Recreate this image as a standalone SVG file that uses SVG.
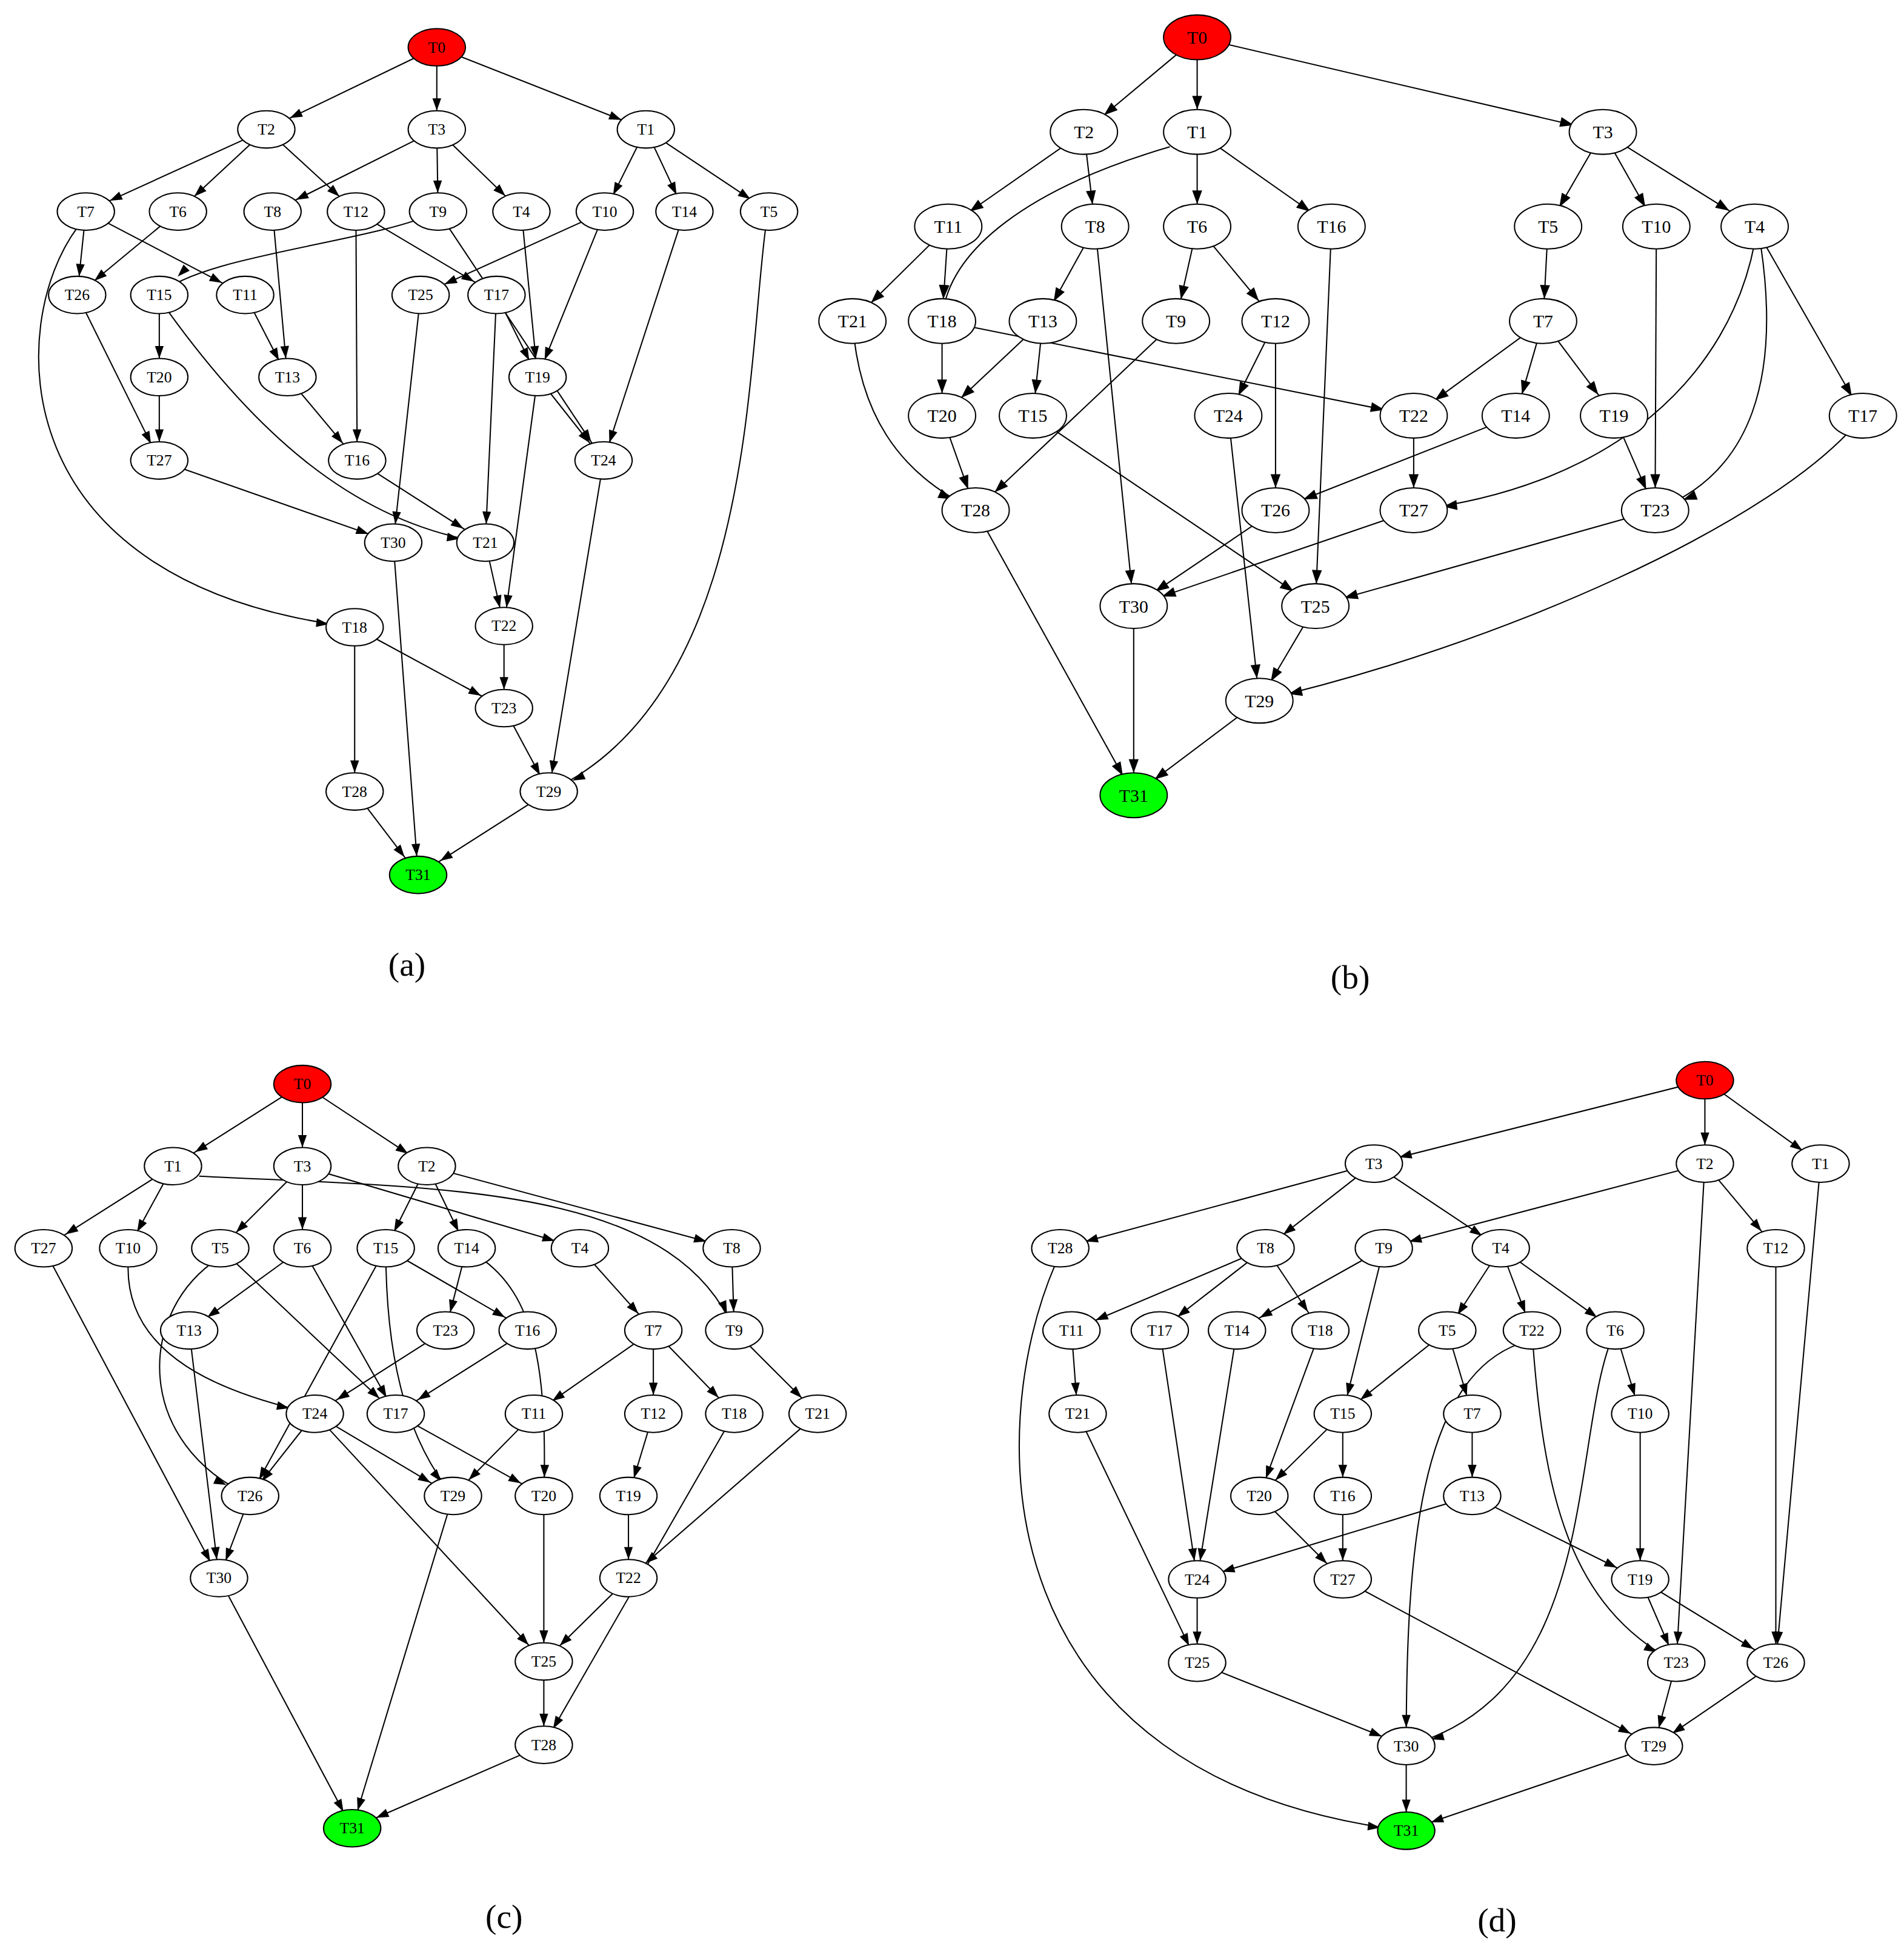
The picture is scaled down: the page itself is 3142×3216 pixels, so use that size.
<svg xmlns="http://www.w3.org/2000/svg" width="3142" height="3216" viewBox="0 0 3142 3216">
<style>
.e{fill:none;stroke:#000;stroke-width:1}
.m1{marker-end:url(#a1)}.m2{marker-end:url(#a2)}.m3{marker-end:url(#a3)}
.n1{marker-end:url(#b1)}.n2{marker-end:url(#b2)}.n3{marker-end:url(#b3)}
ellipse{fill:#fff;stroke:#000;stroke-width:1}
.s ellipse{rx:23px;ry:15px}
.b ellipse{rx:27px;ry:18px}
text{font-family:"Liberation Serif",serif;text-anchor:middle;dominant-baseline:central}
.s text{font-size:12.5px}.b text{font-size:14.5px}
.red ellipse{fill:#f00}.grn ellipse{fill:#0f0}
.lab{font-size:27px}
</style>
<defs>
<marker id="a1" markerUnits="userSpaceOnUse" markerWidth="40" markerHeight="10" refX="25" refY="3.5" orient="auto" overflow="visible"><path d="M0,0L10,3.5L0,7z"/></marker>
<marker id="a2" markerUnits="userSpaceOnUse" markerWidth="40" markerHeight="10" refX="28" refY="3.5" orient="auto" overflow="visible"><path d="M0,0L10,3.5L0,7z"/></marker>
<marker id="a3" markerUnits="userSpaceOnUse" markerWidth="40" markerHeight="10" refX="31" refY="3.5" orient="auto" overflow="visible"><path d="M0,0L10,3.5L0,7z"/></marker>
<marker id="b1" markerUnits="userSpaceOnUse" markerWidth="40" markerHeight="10" refX="29" refY="4" orient="auto" overflow="visible"><path d="M0,0L11,4L0,8z"/></marker>
<marker id="b2" markerUnits="userSpaceOnUse" markerWidth="40" markerHeight="10" refX="32" refY="4" orient="auto" overflow="visible"><path d="M0,0L11,4L0,8z"/></marker>
<marker id="b3" markerUnits="userSpaceOnUse" markerWidth="40" markerHeight="10" refX="35" refY="4" orient="auto" overflow="visible"><path d="M0,0L11,4L0,8z"/></marker>
</defs>
<rect width="3142" height="3216" fill="#fff"/>
<g transform="scale(2.0536)">
<g id="connectors">
<!-- a -->
<path class="e m3" d="M351,38L214,104"/><path class="e m1" d="M351,38L351,104"/><path class="e m3" d="M351,38L519,104"/>
<path class="e m3" d="M214,104L69,170"/><path class="e m2" d="M214,104L143,170"/><path class="e m2" d="M214,104L286,170"/>
<path class="e m3" d="M351,104L219,170"/><path class="e m1" d="M351,104L352,170"/><path class="e m2" d="M351,104L419,170"/>
<path class="e m1" d="M519,104L486,170"/><path class="e m1" d="M519,104L550,170"/><path class="e m2" d="M519,104L618,170"/>
<path class="e m1" d="M69,170L62,237"/><path class="e m3" d="M69,170L197,237"/><path class="e m3" d="M62,183C5,260 0,470 285,504"/>
<path class="e m2" d="M143,170L62,237"/><path class="e m1" d="M219,170L231,303"/>
<path class="e m1" d="M286,170L287,370"/><path class="e m3" d="M286,170L399,237"/>
<path class="e m3" d="M352,170C300,195 160,205 128,237"/><path class="e m2" d="M352,170L485,370"/>
<path class="e m1" d="M419,170L432,303"/><path class="e m3" d="M486,170L338,237"/><path class="e m1" d="M486,170L432,303"/>
<path class="e m1" d="M550,170L485,370"/><path class="e m3" d="M615,185C600,300 605,560 441,636"/>
<path class="e m1" d="M62,237L128,370"/><path class="e m1" d="M128,237L128,303"/><path class="e m3" d="M135,250C200,340 280,420 390,436"/>
<path class="e m1" d="M197,237L231,303"/><path class="e m1" d="M338,237L316,436"/><path class="e m1" d="M399,237L432,303"/><path class="e m1" d="M399,237L390,436"/>
<path class="e m1" d="M128,303L128,370"/><path class="e m2" d="M231,303L287,370"/><path class="e m2" d="M432,303L485,370"/><path class="e m1" d="M432,303L405,503"/>
<path class="e m3" d="M128,370L316,436"/><path class="e m3" d="M287,370L390,436"/><path class="e m1" d="M485,370L441,636"/>
<path class="e m1" d="M316,436L336,703"/><path class="e m1" d="M390,436L405,503"/>
<path class="e m3" d="M285,504L405,569"/><path class="e m1" d="M285,504L285,636"/><path class="e m1" d="M405,503L405,569"/>
<path class="e m1" d="M405,569L441,636"/><path class="e m2" d="M285,636L336,703"/><path class="e m3" d="M441,636L336,703"/>
<!-- b -->
<path class="e n2" d="M962,30L871,106"/><path class="e n1" d="M962,30L962,106"/><path class="e n3" d="M962,30L1288,106"/>
<path class="e n2" d="M871,106L762,182"/><path class="e n1" d="M871,106L880,182"/>
<path class="e n1" d="M940,118C830,150 760,200 757,258"/><path class="e n1" d="M962,106L962,182"/><path class="e n2" d="M962,106L1070,182"/>
<path class="e n1" d="M1288,106L1244,182"/><path class="e n1" d="M1288,106L1331,182"/><path class="e n3" d="M1288,106L1410,182"/>
<path class="e n2" d="M762,182L685,258"/><path class="e n1" d="M762,182L757,258"/>
<path class="e n1" d="M880,182L838,258"/><path class="e n1" d="M880,182L911,487"/>
<path class="e n1" d="M962,182L945,258"/><path class="e n2" d="M962,182L1025,258"/>
<path class="e n1" d="M1070,182L1057,487"/><path class="e n1" d="M1244,182L1240,258"/><path class="e n1" d="M1331,182L1330,410"/>
<path class="e n3" d="M1410,195C1390,300 1300,390 1136,410"/><path class="e n3" d="M1415,198C1430,300 1410,380 1330,410"/><path class="e n1" d="M1410,182L1497,334"/>
<path class="e n2" d="M685,258C690,330 720,380 784,410"/>
<path class="e n1" d="M757,258L757,334"/><path class="e n3" d="M757,258L1136,334"/>
<path class="e n2" d="M838,258L757,334"/><path class="e n1" d="M838,258L830,334"/>
<path class="e n2" d="M945,258L784,410"/><path class="e n1" d="M1025,258L987,334"/><path class="e n1" d="M1025,258L1025,410"/>
<path class="e n2" d="M1240,258L1136,334"/><path class="e n1" d="M1240,258L1218,334"/><path class="e n2" d="M1240,258L1297,334"/>
<path class="e n1" d="M757,334L784,410"/><path class="e n2" d="M830,334L1057,487"/><path class="e n1" d="M987,334L1012,563"/>
<path class="e n1" d="M1136,334L1136,410"/><path class="e n3" d="M1218,334L1025,410"/><path class="e n1" d="M1297,334L1330,410"/>
<path class="e n3" d="M1497,334C1430,420 1200,520 1012,563"/>
<path class="e n1" d="M784,410L911,639"/><path class="e n2" d="M1025,410L911,487"/><path class="e n3" d="M1136,410L911,487"/><path class="e n3" d="M1330,410L1057,487"/>
<path class="e n1" d="M911,487L911,639"/><path class="e n1" d="M1057,487L1012,563"/><path class="e n2" d="M1012,563L911,639"/>
<!-- c -->
<path class="e m3" d="M243,871L139,937"/><path class="e m1" d="M243,871L243,937"/><path class="e m2" d="M243,871L343,937"/>
<path class="e m3" d="M139,937L35,1003"/><path class="e m1" d="M139,937L103,1003"/><path class="e m1" d="M160,945C350,955 540,950 590,1069"/>
<path class="e m2" d="M243,937L177,1003"/><path class="e m1" d="M243,937L243,1003"/><path class="e m3" d="M243,937L466,1003"/>
<path class="e m1" d="M343,937L310,1003"/><path class="e m1" d="M343,937L375,1003"/><path class="e m3" d="M343,937L588,1003"/>
<path class="e m1" d="M35,1003L176,1268"/><path class="e m3" d="M103,1015C100,1090 180,1120 253,1136"/>
<path class="e m3" d="M170,1015C110,1060 110,1160 201,1202"/><path class="e m2" d="M177,1003L318,1136"/>
<path class="e m2" d="M243,1003L152,1069"/><path class="e m1" d="M243,1003L318,1136"/>
<path class="e m1" d="M310,1003L201,1202"/><path class="e m1" d="M310,1003C310,1100 330,1160 364,1202"/><path class="e m3" d="M310,1003L424,1069"/>
<path class="e m1" d="M375,1003L358,1069"/><path class="e m1" d="M385,1010C430,1040 440,1100 437,1202"/>
<path class="e m2" d="M466,1003L525,1069"/><path class="e m1" d="M588,1003L590,1069"/>
<path class="e m1" d="M152,1069L176,1268"/><path class="e m3" d="M358,1069L253,1136"/><path class="e m3" d="M424,1069L318,1136"/>
<path class="e m2" d="M525,1069L429,1136"/><path class="e m1" d="M525,1069L525,1136"/><path class="e m2" d="M525,1069L590,1136"/>
<path class="e m2" d="M590,1069L657,1136"/>
<path class="e m1" d="M253,1136L201,1202"/><path class="e m3" d="M253,1136L364,1202"/><path class="e m2" d="M253,1136L437,1335"/>
<path class="e m3" d="M318,1136L437,1202"/><path class="e m2" d="M429,1136L364,1202"/><path class="e m1" d="M525,1136L505,1202"/>
<path class="e m1" d="M590,1136L437,1402"/><path class="e m2" d="M657,1136L505,1268"/>
<path class="e m1" d="M201,1202L176,1268"/><path class="e m1" d="M364,1202L283,1469"/><path class="e m1" d="M437,1202L437,1335"/><path class="e m1" d="M505,1202L505,1268"/>
<path class="e m1" d="M176,1268L283,1469"/><path class="e m2" d="M505,1268L437,1335"/><path class="e m1" d="M437,1335L437,1402"/><path class="e m3" d="M437,1402L283,1469"/>
<!-- d -->
<path class="e m3" d="M1370,868L1104,935"/><path class="e m1" d="M1370,868L1370,935"/><path class="e m2" d="M1370,868L1463,935"/>
<path class="e m3" d="M1104,935L852,1003"/><path class="e m2" d="M1104,935L1017,1003"/><path class="e m2" d="M1104,935L1206,1003"/>
<path class="e m3" d="M1370,935L1112,1003"/><path class="e m1" d="M1370,935L1347,1336"/><path class="e m2" d="M1370,935L1427,1003"/>
<path class="e m1" d="M1463,935L1427,1336"/>
<path class="e m3" d="M848,1016C790,1150 790,1430 1130,1471"/>
<path class="e m3" d="M1017,1003L861,1069"/><path class="e m2" d="M1017,1003L932,1069"/><path class="e m2" d="M1017,1003L1061,1069"/>
<path class="e m3" d="M1112,1003L994,1069"/><path class="e m1" d="M1112,1003L1079,1136"/>
<path class="e m1" d="M1206,1003L1163,1069"/><path class="e m1" d="M1206,1003L1231,1069"/><path class="e m2" d="M1206,1003L1298,1069"/>
<path class="e m1" d="M1427,1003L1427,1336"/><path class="e m1" d="M861,1069L866,1136"/>
<path class="e m1" d="M932,1069L962,1269"/><path class="e m1" d="M994,1069L962,1269"/><path class="e m1" d="M1061,1069L1012,1202"/>
<path class="e m2" d="M1163,1069L1079,1136"/><path class="e m1" d="M1163,1069L1183,1136"/>
<path class="e m1" d="M1220,1080C1140,1110 1130,1250 1130,1403"/><path class="e m2" d="M1231,1069C1240,1200 1260,1290 1347,1336"/>
<path class="e m3" d="M1298,1069C1260,1150 1290,1360 1130,1403"/><path class="e m1" d="M1298,1069L1318,1136"/>
<path class="e m1" d="M866,1136L962,1336"/><path class="e m2" d="M1079,1136L1012,1202"/><path class="e m1" d="M1079,1136L1079,1202"/>
<path class="e m1" d="M1183,1136L1183,1202"/><path class="e m1" d="M1318,1136L1318,1269"/>
<path class="e m2" d="M1012,1202L1079,1269"/><path class="e m1" d="M1079,1202L1079,1269"/>
<path class="e m3" d="M1183,1202L962,1269"/><path class="e m3" d="M1183,1202L1318,1269"/>
<path class="e m1" d="M962,1269L962,1336"/><path class="e m3" d="M1079,1269L1329,1403"/>
<path class="e m1" d="M1318,1269L1347,1336"/><path class="e m3" d="M1318,1269L1427,1336"/>
<path class="e m3" d="M962,1336L1130,1403"/><path class="e m1" d="M1347,1336L1329,1403"/><path class="e m2" d="M1427,1336L1329,1403"/>
<path class="e m1" d="M1130,1403L1130,1471"/><path class="e m3" d="M1329,1403L1130,1471"/>
</g>
<g id="graph-a" class="s">
<g id="a-T0" class="red"><ellipse cx="351" cy="38" rx="23" ry="15"/><text x="351" y="38">T0</text></g>
<g id="a-T2"><ellipse cx="214" cy="104" rx="23" ry="15"/><text x="214" y="104">T2</text></g>
<g id="a-T3"><ellipse cx="351" cy="104" rx="23" ry="15"/><text x="351" y="104">T3</text></g>
<g id="a-T1"><ellipse cx="519" cy="104" rx="23" ry="15"/><text x="519" y="104">T1</text></g>
<g id="a-T7"><ellipse cx="69" cy="170" rx="23" ry="15"/><text x="69" y="170">T7</text></g>
<g id="a-T6"><ellipse cx="143" cy="170" rx="23" ry="15"/><text x="143" y="170">T6</text></g>
<g id="a-T8"><ellipse cx="219" cy="170" rx="23" ry="15"/><text x="219" y="170">T8</text></g>
<g id="a-T12"><ellipse cx="286" cy="170" rx="23" ry="15"/><text x="286" y="170">T12</text></g>
<g id="a-T9"><ellipse cx="352" cy="170" rx="23" ry="15"/><text x="352" y="170">T9</text></g>
<g id="a-T4"><ellipse cx="419" cy="170" rx="23" ry="15"/><text x="419" y="170">T4</text></g>
<g id="a-T10"><ellipse cx="486" cy="170" rx="23" ry="15"/><text x="486" y="170">T10</text></g>
<g id="a-T14"><ellipse cx="550" cy="170" rx="23" ry="15"/><text x="550" y="170">T14</text></g>
<g id="a-T5"><ellipse cx="618" cy="170" rx="23" ry="15"/><text x="618" y="170">T5</text></g>
<g id="a-T26"><ellipse cx="62" cy="237" rx="23" ry="15"/><text x="62" y="237">T26</text></g>
<g id="a-T15"><ellipse cx="128" cy="237" rx="23" ry="15"/><text x="128" y="237">T15</text></g>
<g id="a-T11"><ellipse cx="197" cy="237" rx="23" ry="15"/><text x="197" y="237">T11</text></g>
<g id="a-T25"><ellipse cx="338" cy="237" rx="23" ry="15"/><text x="338" y="237">T25</text></g>
<g id="a-T17"><ellipse cx="399" cy="237" rx="23" ry="15"/><text x="399" y="237">T17</text></g>
<g id="a-T20"><ellipse cx="128" cy="303" rx="23" ry="15"/><text x="128" y="303">T20</text></g>
<g id="a-T13"><ellipse cx="231" cy="303" rx="23" ry="15"/><text x="231" y="303">T13</text></g>
<g id="a-T19"><ellipse cx="432" cy="303" rx="23" ry="15"/><text x="432" y="303">T19</text></g>
<g id="a-T27"><ellipse cx="128" cy="370" rx="23" ry="15"/><text x="128" y="370">T27</text></g>
<g id="a-T16"><ellipse cx="287" cy="370" rx="23" ry="15"/><text x="287" y="370">T16</text></g>
<g id="a-T24"><ellipse cx="485" cy="370" rx="23" ry="15"/><text x="485" y="370">T24</text></g>
<g id="a-T30"><ellipse cx="316" cy="436" rx="23" ry="15"/><text x="316" y="436">T30</text></g>
<g id="a-T21"><ellipse cx="390" cy="436" rx="23" ry="15"/><text x="390" y="436">T21</text></g>
<g id="a-T18"><ellipse cx="285" cy="504" rx="23" ry="15"/><text x="285" y="504">T18</text></g>
<g id="a-T22"><ellipse cx="405" cy="503" rx="23" ry="15"/><text x="405" y="503">T22</text></g>
<g id="a-T23"><ellipse cx="405" cy="569" rx="23" ry="15"/><text x="405" y="569">T23</text></g>
<g id="a-T28"><ellipse cx="285" cy="636" rx="23" ry="15"/><text x="285" y="636">T28</text></g>
<g id="a-T29"><ellipse cx="441" cy="636" rx="23" ry="15"/><text x="441" y="636">T29</text></g>
<g id="a-T31" class="grn"><ellipse cx="336" cy="703" rx="23" ry="15"/><text x="336" y="703">T31</text></g>
</g>
<g id="graph-b" class="b">
<g id="b-T0" class="red"><ellipse cx="962" cy="30" rx="27" ry="18"/><text x="962" y="30">T0</text></g>
<g id="b-T2"><ellipse cx="871" cy="106" rx="27" ry="18"/><text x="871" y="106">T2</text></g>
<g id="b-T1"><ellipse cx="962" cy="106" rx="27" ry="18"/><text x="962" y="106">T1</text></g>
<g id="b-T3"><ellipse cx="1288" cy="106" rx="27" ry="18"/><text x="1288" y="106">T3</text></g>
<g id="b-T11"><ellipse cx="762" cy="182" rx="27" ry="18"/><text x="762" y="182">T11</text></g>
<g id="b-T8"><ellipse cx="880" cy="182" rx="27" ry="18"/><text x="880" y="182">T8</text></g>
<g id="b-T6"><ellipse cx="962" cy="182" rx="27" ry="18"/><text x="962" y="182">T6</text></g>
<g id="b-T16"><ellipse cx="1070" cy="182" rx="27" ry="18"/><text x="1070" y="182">T16</text></g>
<g id="b-T5"><ellipse cx="1244" cy="182" rx="27" ry="18"/><text x="1244" y="182">T5</text></g>
<g id="b-T10"><ellipse cx="1331" cy="182" rx="27" ry="18"/><text x="1331" y="182">T10</text></g>
<g id="b-T4"><ellipse cx="1410" cy="182" rx="27" ry="18"/><text x="1410" y="182">T4</text></g>
<g id="b-T21"><ellipse cx="685" cy="258" rx="27" ry="18"/><text x="685" y="258">T21</text></g>
<g id="b-T18"><ellipse cx="757" cy="258" rx="27" ry="18"/><text x="757" y="258">T18</text></g>
<g id="b-T13"><ellipse cx="838" cy="258" rx="27" ry="18"/><text x="838" y="258">T13</text></g>
<g id="b-T9"><ellipse cx="945" cy="258" rx="27" ry="18"/><text x="945" y="258">T9</text></g>
<g id="b-T12"><ellipse cx="1025" cy="258" rx="27" ry="18"/><text x="1025" y="258">T12</text></g>
<g id="b-T7"><ellipse cx="1240" cy="258" rx="27" ry="18"/><text x="1240" y="258">T7</text></g>
<g id="b-T20"><ellipse cx="757" cy="334" rx="27" ry="18"/><text x="757" y="334">T20</text></g>
<g id="b-T15"><ellipse cx="830" cy="334" rx="27" ry="18"/><text x="830" y="334">T15</text></g>
<g id="b-T24"><ellipse cx="987" cy="334" rx="27" ry="18"/><text x="987" y="334">T24</text></g>
<g id="b-T22"><ellipse cx="1136" cy="334" rx="27" ry="18"/><text x="1136" y="334">T22</text></g>
<g id="b-T14"><ellipse cx="1218" cy="334" rx="27" ry="18"/><text x="1218" y="334">T14</text></g>
<g id="b-T19"><ellipse cx="1297" cy="334" rx="27" ry="18"/><text x="1297" y="334">T19</text></g>
<g id="b-T17"><ellipse cx="1497" cy="334" rx="27" ry="18"/><text x="1497" y="334">T17</text></g>
<g id="b-T28"><ellipse cx="784" cy="410" rx="27" ry="18"/><text x="784" y="410">T28</text></g>
<g id="b-T26"><ellipse cx="1025" cy="410" rx="27" ry="18"/><text x="1025" y="410">T26</text></g>
<g id="b-T27"><ellipse cx="1136" cy="410" rx="27" ry="18"/><text x="1136" y="410">T27</text></g>
<g id="b-T23"><ellipse cx="1330" cy="410" rx="27" ry="18"/><text x="1330" y="410">T23</text></g>
<g id="b-T30"><ellipse cx="911" cy="487" rx="27" ry="18"/><text x="911" y="487">T30</text></g>
<g id="b-T25"><ellipse cx="1057" cy="487" rx="27" ry="18"/><text x="1057" y="487">T25</text></g>
<g id="b-T29"><ellipse cx="1012" cy="563" rx="27" ry="18"/><text x="1012" y="563">T29</text></g>
<g id="b-T31" class="grn"><ellipse cx="911" cy="639" rx="27" ry="18"/><text x="911" y="639">T31</text></g>
</g>
<g id="graph-c" class="s">
<g id="c-T0" class="red"><ellipse cx="243" cy="871" rx="23" ry="15"/><text x="243" y="871">T0</text></g>
<g id="c-T1"><ellipse cx="139" cy="937" rx="23" ry="15"/><text x="139" y="937">T1</text></g>
<g id="c-T3"><ellipse cx="243" cy="937" rx="23" ry="15"/><text x="243" y="937">T3</text></g>
<g id="c-T2"><ellipse cx="343" cy="937" rx="23" ry="15"/><text x="343" y="937">T2</text></g>
<g id="c-T27"><ellipse cx="35" cy="1003" rx="23" ry="15"/><text x="35" y="1003">T27</text></g>
<g id="c-T10"><ellipse cx="103" cy="1003" rx="23" ry="15"/><text x="103" y="1003">T10</text></g>
<g id="c-T5"><ellipse cx="177" cy="1003" rx="23" ry="15"/><text x="177" y="1003">T5</text></g>
<g id="c-T6"><ellipse cx="243" cy="1003" rx="23" ry="15"/><text x="243" y="1003">T6</text></g>
<g id="c-T15"><ellipse cx="310" cy="1003" rx="23" ry="15"/><text x="310" y="1003">T15</text></g>
<g id="c-T14"><ellipse cx="375" cy="1003" rx="23" ry="15"/><text x="375" y="1003">T14</text></g>
<g id="c-T4"><ellipse cx="466" cy="1003" rx="23" ry="15"/><text x="466" y="1003">T4</text></g>
<g id="c-T8"><ellipse cx="588" cy="1003" rx="23" ry="15"/><text x="588" y="1003">T8</text></g>
<g id="c-T13"><ellipse cx="152" cy="1069" rx="23" ry="15"/><text x="152" y="1069">T13</text></g>
<g id="c-T23"><ellipse cx="358" cy="1069" rx="23" ry="15"/><text x="358" y="1069">T23</text></g>
<g id="c-T16"><ellipse cx="424" cy="1069" rx="23" ry="15"/><text x="424" y="1069">T16</text></g>
<g id="c-T7"><ellipse cx="525" cy="1069" rx="23" ry="15"/><text x="525" y="1069">T7</text></g>
<g id="c-T9"><ellipse cx="590" cy="1069" rx="23" ry="15"/><text x="590" y="1069">T9</text></g>
<g id="c-T24"><ellipse cx="253" cy="1136" rx="23" ry="15"/><text x="253" y="1136">T24</text></g>
<g id="c-T17"><ellipse cx="318" cy="1136" rx="23" ry="15"/><text x="318" y="1136">T17</text></g>
<g id="c-T11"><ellipse cx="429" cy="1136" rx="23" ry="15"/><text x="429" y="1136">T11</text></g>
<g id="c-T12"><ellipse cx="525" cy="1136" rx="23" ry="15"/><text x="525" y="1136">T12</text></g>
<g id="c-T18"><ellipse cx="590" cy="1136" rx="23" ry="15"/><text x="590" y="1136">T18</text></g>
<g id="c-T21"><ellipse cx="657" cy="1136" rx="23" ry="15"/><text x="657" y="1136">T21</text></g>
<g id="c-T26"><ellipse cx="201" cy="1202" rx="23" ry="15"/><text x="201" y="1202">T26</text></g>
<g id="c-T29"><ellipse cx="364" cy="1202" rx="23" ry="15"/><text x="364" y="1202">T29</text></g>
<g id="c-T20"><ellipse cx="437" cy="1202" rx="23" ry="15"/><text x="437" y="1202">T20</text></g>
<g id="c-T19"><ellipse cx="505" cy="1202" rx="23" ry="15"/><text x="505" y="1202">T19</text></g>
<g id="c-T30"><ellipse cx="176" cy="1268" rx="23" ry="15"/><text x="176" y="1268">T30</text></g>
<g id="c-T22"><ellipse cx="505" cy="1268" rx="23" ry="15"/><text x="505" y="1268">T22</text></g>
<g id="c-T25"><ellipse cx="437" cy="1335" rx="23" ry="15"/><text x="437" y="1335">T25</text></g>
<g id="c-T28"><ellipse cx="437" cy="1402" rx="23" ry="15"/><text x="437" y="1402">T28</text></g>
<g id="c-T31" class="grn"><ellipse cx="283" cy="1469" rx="23" ry="15"/><text x="283" y="1469">T31</text></g>
</g>
<g id="graph-d" class="s">
<g id="d-T0" class="red"><ellipse cx="1370" cy="868" rx="23" ry="15"/><text x="1370" y="868">T0</text></g>
<g id="d-T3"><ellipse cx="1104" cy="935" rx="23" ry="15"/><text x="1104" y="935">T3</text></g>
<g id="d-T2"><ellipse cx="1370" cy="935" rx="23" ry="15"/><text x="1370" y="935">T2</text></g>
<g id="d-T1"><ellipse cx="1463" cy="935" rx="23" ry="15"/><text x="1463" y="935">T1</text></g>
<g id="d-T28"><ellipse cx="852" cy="1003" rx="23" ry="15"/><text x="852" y="1003">T28</text></g>
<g id="d-T8"><ellipse cx="1017" cy="1003" rx="23" ry="15"/><text x="1017" y="1003">T8</text></g>
<g id="d-T9"><ellipse cx="1112" cy="1003" rx="23" ry="15"/><text x="1112" y="1003">T9</text></g>
<g id="d-T4"><ellipse cx="1206" cy="1003" rx="23" ry="15"/><text x="1206" y="1003">T4</text></g>
<g id="d-T12"><ellipse cx="1427" cy="1003" rx="23" ry="15"/><text x="1427" y="1003">T12</text></g>
<g id="d-T11"><ellipse cx="861" cy="1069" rx="23" ry="15"/><text x="861" y="1069">T11</text></g>
<g id="d-T17"><ellipse cx="932" cy="1069" rx="23" ry="15"/><text x="932" y="1069">T17</text></g>
<g id="d-T14"><ellipse cx="994" cy="1069" rx="23" ry="15"/><text x="994" y="1069">T14</text></g>
<g id="d-T18"><ellipse cx="1061" cy="1069" rx="23" ry="15"/><text x="1061" y="1069">T18</text></g>
<g id="d-T5"><ellipse cx="1163" cy="1069" rx="23" ry="15"/><text x="1163" y="1069">T5</text></g>
<g id="d-T22"><ellipse cx="1231" cy="1069" rx="23" ry="15"/><text x="1231" y="1069">T22</text></g>
<g id="d-T6"><ellipse cx="1298" cy="1069" rx="23" ry="15"/><text x="1298" y="1069">T6</text></g>
<g id="d-T21"><ellipse cx="866" cy="1136" rx="23" ry="15"/><text x="866" y="1136">T21</text></g>
<g id="d-T15"><ellipse cx="1079" cy="1136" rx="23" ry="15"/><text x="1079" y="1136">T15</text></g>
<g id="d-T7"><ellipse cx="1183" cy="1136" rx="23" ry="15"/><text x="1183" y="1136">T7</text></g>
<g id="d-T10"><ellipse cx="1318" cy="1136" rx="23" ry="15"/><text x="1318" y="1136">T10</text></g>
<g id="d-T20"><ellipse cx="1012" cy="1202" rx="23" ry="15"/><text x="1012" y="1202">T20</text></g>
<g id="d-T16"><ellipse cx="1079" cy="1202" rx="23" ry="15"/><text x="1079" y="1202">T16</text></g>
<g id="d-T13"><ellipse cx="1183" cy="1202" rx="23" ry="15"/><text x="1183" y="1202">T13</text></g>
<g id="d-T24"><ellipse cx="962" cy="1269" rx="23" ry="15"/><text x="962" y="1269">T24</text></g>
<g id="d-T27"><ellipse cx="1079" cy="1269" rx="23" ry="15"/><text x="1079" y="1269">T27</text></g>
<g id="d-T19"><ellipse cx="1318" cy="1269" rx="23" ry="15"/><text x="1318" y="1269">T19</text></g>
<g id="d-T25"><ellipse cx="962" cy="1336" rx="23" ry="15"/><text x="962" y="1336">T25</text></g>
<g id="d-T23"><ellipse cx="1347" cy="1336" rx="23" ry="15"/><text x="1347" y="1336">T23</text></g>
<g id="d-T26"><ellipse cx="1427" cy="1336" rx="23" ry="15"/><text x="1427" y="1336">T26</text></g>
<g id="d-T30"><ellipse cx="1130" cy="1403" rx="23" ry="15"/><text x="1130" y="1403">T30</text></g>
<g id="d-T29"><ellipse cx="1329" cy="1403" rx="23" ry="15"/><text x="1329" y="1403">T29</text></g>
<g id="d-T31" class="grn"><ellipse cx="1130" cy="1471" rx="23" ry="15"/><text x="1130" y="1471">T31</text></g>
</g>
<g id="labels">
<text class="lab" x="327" y="775">(a)</text>
<text class="lab" x="1085" y="785">(b)</text>
<text class="lab" x="405" y="1540">(c)</text>
<text class="lab" x="1203" y="1543">(d)</text>
</g>
</g>
</svg>
